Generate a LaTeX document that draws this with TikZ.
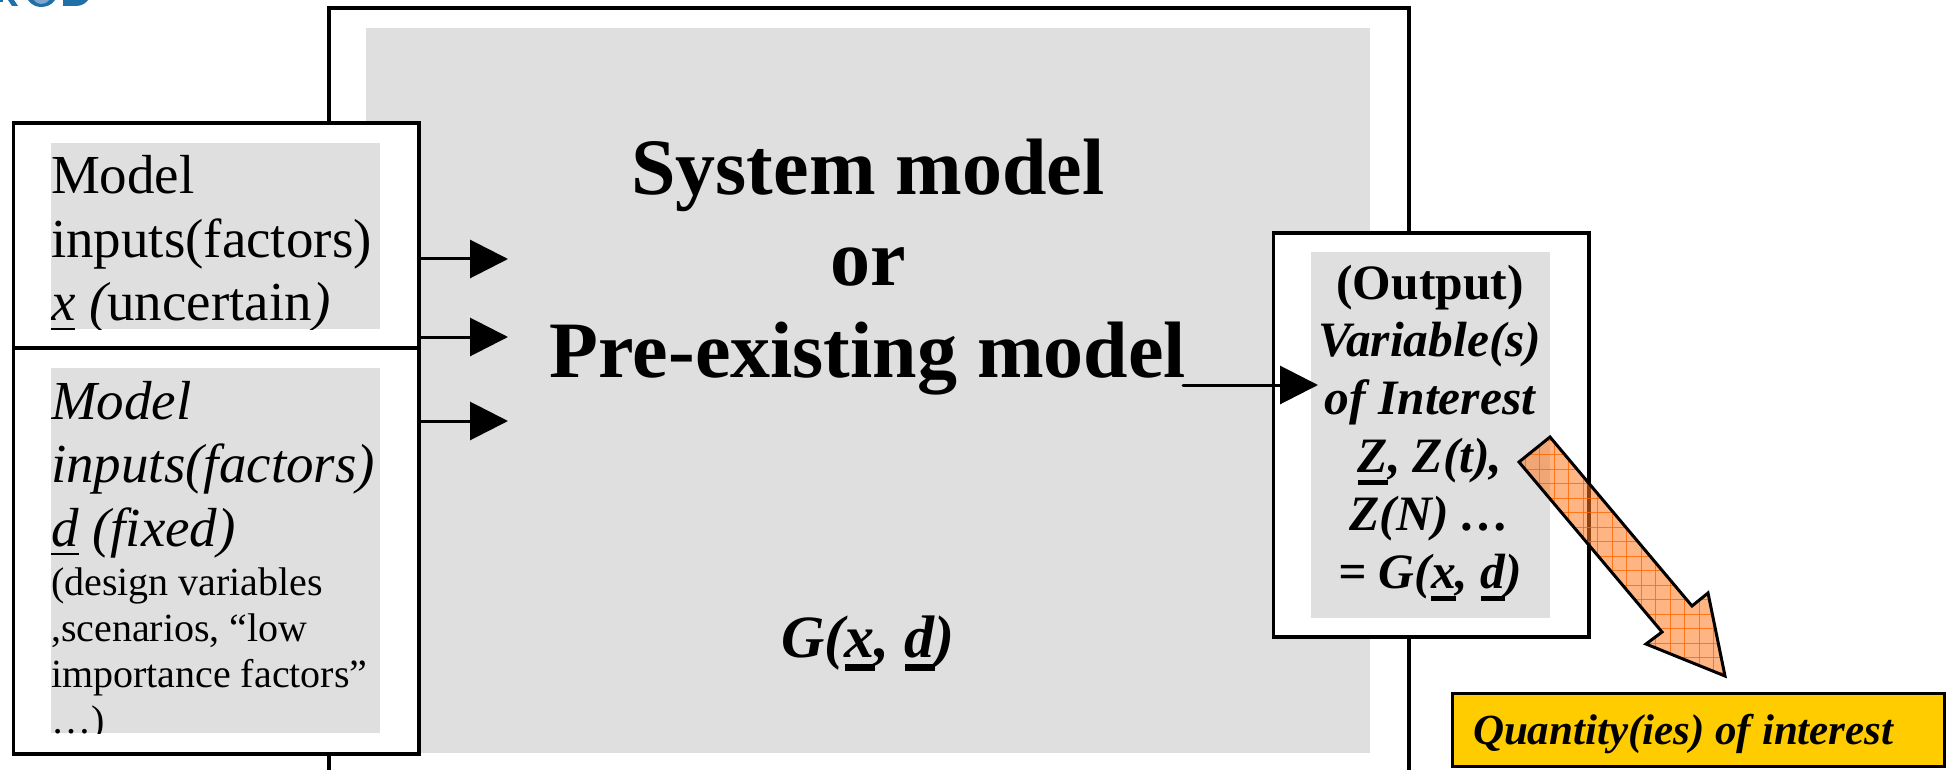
\documentclass[tikz,border=0pt]{standalone}
\usepackage{fontspec}
\usetikzlibrary{arrows.meta}
\setmainfont{Liberation Serif}
\definecolor{panel}{HTML}{DFDFDF}
\definecolor{gold}{HTML}{FFCC00}
\definecolor{logoblue}{HTML}{1F6FA8}
\definecolor{logolight}{HTML}{7FA6CC}
\newcommand{\ulbox}[3]{\leavevmode\setbox0=\hbox{#3}\rlap{\rule[-#1pt]{\wd0}{#2pt}}\box0 }
% #1 width, #2 alignment, #3 size, #4 line skip, #5 font switches, #6 text
\newcommand{\blk}[6]{\parbox[t]{#1pt}{#2\lineskiplimit=-200pt\relax\fontsize{#3}{#4}\selectfont #5#6\par}}
\tikzset{
  panelbox/.style={fill=panel,draw=none,inner sep=0pt,anchor=north west,outer sep=0pt},
  linebox/.style={fill=white,draw=black,line width=3.4pt,inner sep=0pt,anchor=north west,outer sep=0pt},
  txt/.style={inner sep=0pt,outer sep=0pt},
  flow/.style={line width=3pt,-{Triangle[length=38pt,width=38pt]}},
}
\begin{document}
\begin{tikzpicture}[x=1pt,y=-1pt]
\useasboundingbox (0,0) rectangle (1952,770);
% logo fragment
\fill[logoblue] (0,0) rectangle (3,2);
\fill[logoblue] (8,0) -- (14,0) -- (18,6) -- (12,6) -- cycle;
\fill[logoblue] (28,0) .. controls (31,5) and (37,7) .. (41,7) .. controls (46,7) and (52,5) .. (55,0) -- cycle;
\fill[logolight] (34,0) .. controls (36,3) and (39,4) .. (41,4) .. controls (44,4) and (47,3) .. (49,0) -- cycle;
\fill[logoblue] (63,0) -- (63,6) -- (76,6) .. controls (82,6) and (86,3) .. (88,0) -- cycle;
% main model
\node[panelbox,minimum width=1004pt,minimum height=725pt] (main) at (366,28) {};
\draw[line width=3.4pt] (329,770) -- (329,8) -- (1409,8) -- (1409,770);
\node[txt,anchor=base] (title) at (868,194.5) {\blk{800}{\centering}{80}{91.3}{\bfseries}{System model\\or\\Pre-existing model}};
\node[txt,anchor=base] (gfun) at (868,657) {\fontsize{60}{66}\selectfont\bfseries\itshape G(\ulbox{14}{7}{x}, \ulbox{14}{7}{d})};
% input boxes
\node[linebox,minimum width=405.5pt,minimum height=225pt] (inA) at (13.5,123) {};
\node[linebox,minimum width=405.5pt,minimum height=406pt] (inB) at (13.5,348) {};
\node[panelbox,minimum width=329pt,minimum height=186pt] (panelA) at (51,143) {};
\node[panelbox,minimum width=329pt,minimum height=365pt] (panelB) at (51,368) {};
\begin{scope}
\clip (panelA.north west) rectangle (panelA.south east);
\node[txt,anchor=base west] (textA) at (51,194) {\blk{329}{\raggedright}{55}{63.2}{}{Model\\inputs(factors)\\\ulbox{10.5}{2.6}{\itshape x}\ {\itshape(}uncertain{\itshape)}}};
\end{scope}
\begin{scope}
\clip (panelB.north west) rectangle (panelB.south east);
\node[txt,anchor=base west] (textB) at (51,419) {\blk{329}{\raggedright}{55}{63.5}{\itshape}{Model\\inputs(factors)\\\ulbox{9.2}{2.7}{d}\ (fixed)}};
\node[txt,anchor=base west] (textC) at (51,595) {\blk{329}{\raggedright}{40}{46}{}{(design variables\\,scenarios, “low\\importance factors”\\…)}};
\end{scope}
% input arrows
\coordinate (tipA) at (508,259);
\coordinate (tipB) at (508,337);
\coordinate (tipC) at (508,421);
\draw[flow] (inA.east |- tipA) -- (tipA);
\draw[flow] (inA.east |- tipB) -- (tipB);
\draw[flow] (inB.east |- tipC) -- (tipC);
% output
\node[linebox,minimum width=315.5pt,minimum height=404pt] (out) at (1273.5,233) {};
\node[panelbox,minimum width=239pt,minimum height=366pt] (panelO) at (1311,252) {};
\node[txt,anchor=base] (textO) at (1430,299) {\blk{239}{\centering}{49.5}{57.9}{\bfseries}{(Output)\\\itshape Variable(s)\\of Interest\\\ulbox{12}{4.8}{Z}\unskip, Z(t),\\Z(N) …\\= G(\ulbox{12}{4.8}{x}\unskip, \ulbox{12}{4.8}{d}\unskip)}};
\coordinate (outstart) at (1183,385);
\coordinate (outtip) at (1318,385);
\draw[flow,line cap=round] (outstart) -- (outtip);
% block arrow
\begin{scope}
\clip (1550,437) -- (1692,606) -- (1708,593) -- (1725,676) -- (1646,644) -- (1662,632) -- (1519,462) -- cycle;
\fill[color={rgb,255:red,255;green,120;blue,30},fill opacity=.55] (1500,430) rectangle (1740,680);
\foreach \gx in {1525,1539.5,...,1735} {\draw[color={rgb,255:red,255;green,102;blue,0},line width=1pt,opacity=.8] (\gx,430) -- (\gx,680);}
\foreach \gy in {440,454.5,...,680} {\draw[color={rgb,255:red,255;green,102;blue,0},line width=1pt,opacity=.8] (1500,\gy) -- (1740,\gy);}
\end{scope}
\draw[line width=3pt,line join=miter] (1550,437) -- (1692,606) -- (1708,593) -- (1725,676) -- (1646,644) -- (1662,632) -- (1519,462) -- cycle;
% quantity box
\node[linebox,fill=gold,line width=3pt,minimum width=492pt,minimum height=73.5pt] (qoi) at (1452,693) {};
\node[txt,anchor=base west] (qtext) at (1473,744.5) {\fontsize{43}{50}\selectfont\bfseries\itshape Quantity(ies) of interest};
\end{tikzpicture}
\end{document}
